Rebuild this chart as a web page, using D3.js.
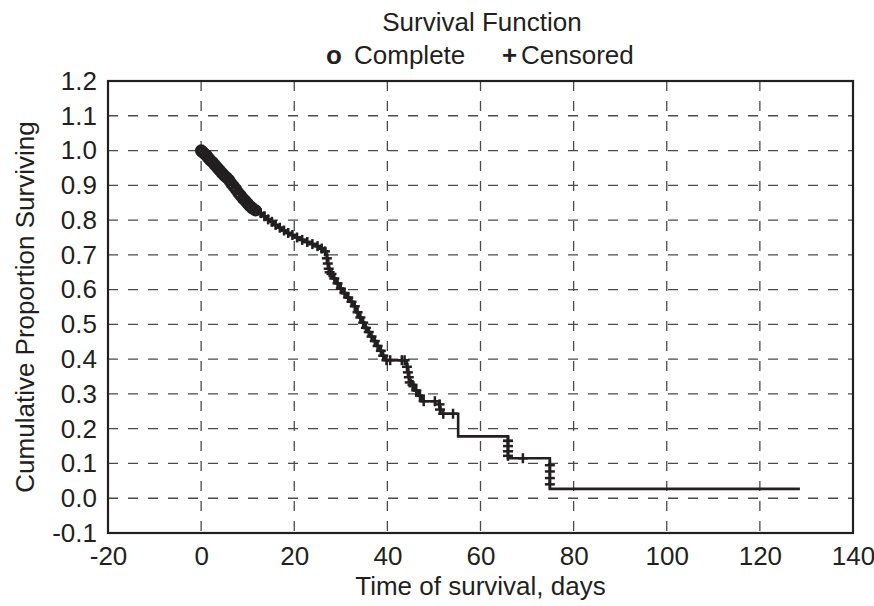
<!DOCTYPE html>
<html>
<head>
<meta charset="utf-8">
<script src="https://cdn.jsdelivr.net/npm/d3@7"></script>
<style>
  html, body { margin: 0; padding: 0; background: #fff; }
  svg { display: block; font-family: "Liberation Sans", Arial, sans-serif; }
</style>
</head>
<body>
<div id="chart"></div>
<script>
(function () {
  "use strict";

  // Kaplan-Meier steps: time (days) and cumulative proportion after the step
  var stepTimes = [0, 0.4, 0.8, 1.2, 1.6, 2.0, 2.5, 3.0, 3.5, 4.0, 4.5, 5.0, 5.5, 6.0, 6.5, 7.0, 7.5, 8.0, 8.5, 9.0,
    9.5, 10.0, 10.5, 11.0, 11.7, 12.4, 13.2, 14.0, 14.8, 15.6, 16.5, 17.4, 18.3, 19.2, 20.2, 21.2, 22.3, 23.4, 24.5,
    25.5, 26.3, 26.9, 27.1, 27.3, 27.5, 27.7, 28.3, 29.0, 29.7, 30.4, 31.2, 32.0, 32.7, 33.3, 33.9, 34.5, 35.1, 35.7,
    36.3, 37.0, 37.6, 38.3, 38.9, 39.4, 44.1, 44.3, 44.5, 44.7, 45.0, 45.8, 46.6, 47.4, 51.2, 51.4, 55.2, 65.9, 74.9, 128.6];
  var stepSurv = [1.0, 0.995, 0.99, 0.985, 0.978, 0.972, 0.966, 0.958, 0.95, 0.943, 0.935, 0.928, 0.922, 0.915, 0.905,
    0.897, 0.888, 0.878, 0.87, 0.862, 0.855, 0.847, 0.84, 0.834, 0.828, 0.82, 0.811, 0.802, 0.795, 0.786, 0.778, 0.77,
    0.763, 0.757, 0.75, 0.743, 0.737, 0.731, 0.725, 0.718, 0.71, 0.70, 0.685, 0.67, 0.655, 0.645, 0.632, 0.618, 0.603,
    0.59, 0.577, 0.565, 0.552, 0.535, 0.52, 0.505, 0.49, 0.478, 0.465, 0.452, 0.438, 0.424, 0.41, 0.397, 0.385, 0.37,
    0.355, 0.34, 0.326, 0.31, 0.295, 0.279, 0.262, 0.243, 0.178, 0.115, 0.027, 0.027];

  // complete observations (o)
  var completeT = [0, 0.2, 0.4, 0.8, 1.2, 1.6, 2.0, 2.5, 3.0, 3.5, 4.0, 4.5, 5.0, 5.5, 6.0, 6.5, 7.0, 7.5, 8.0, 8.5,
    9.0, 9.5, 10.0, 10.5, 11.0, 11.7];
  var completeS = [1.0, 0.997, 0.995, 0.99, 0.985, 0.978, 0.972, 0.966, 0.958, 0.95, 0.943, 0.935, 0.928, 0.922, 0.915,
    0.905, 0.897, 0.888, 0.878, 0.87, 0.862, 0.855, 0.847, 0.84, 0.834, 0.828];

  // censored observations (+)
  var censoredT = [8.2, 9.2, 10.2, 11.3, 12.0, 12.8, 13.6, 14.4, 15.2, 16.0, 16.9, 17.8, 18.7, 19.6, 20.6, 21.7, 22.8,
    23.9, 25.0, 25.9, 26.6, 27.0, 27.2, 27.4, 27.6, 28.0, 28.6, 29.3, 30.0, 30.8, 31.6, 32.3, 33.0, 33.6, 34.2, 34.8,
    35.4, 36.0, 36.6, 37.3, 37.9, 38.6, 39.1, 39.8, 40.6, 43.1, 43.7, 44.2, 44.4, 44.6, 44.8, 45.4, 46.2, 47.0, 47.8,
    50.2, 51.2, 51.3, 52.0, 54.1, 65.9, 65.9, 65.9, 65.9, 65.9, 69.1, 74.9, 74.9, 74.9, 74.9];
  var censoredS = [0.878, 0.862, 0.847, 0.834, 0.828, 0.82, 0.811, 0.802, 0.795, 0.786, 0.778, 0.77, 0.763, 0.757, 0.75,
    0.743, 0.737, 0.731, 0.725, 0.718, 0.71, 0.69, 0.675, 0.66, 0.65, 0.645, 0.632, 0.618, 0.603, 0.59, 0.577, 0.565,
    0.552, 0.535, 0.52, 0.505, 0.49, 0.478, 0.465, 0.452, 0.438, 0.424, 0.41, 0.397, 0.397, 0.397, 0.397, 0.378, 0.362,
    0.348, 0.333, 0.326, 0.31, 0.295, 0.279, 0.279, 0.27, 0.255, 0.243, 0.243, 0.165, 0.15, 0.135, 0.122, 0.165, 0.115,
    0.095, 0.077, 0.058, 0.04];

  var xTicks = [-20, 0, 20, 40, 60, 80, 100, 120, 140];
  var yTicks = [-0.1, 0.0, 0.1, 0.2, 0.3, 0.4, 0.5, 0.6, 0.7, 0.8, 0.9, 1.0, 1.1, 1.2];

  var W = 874, H = 606;
  var left = 108, right = 853, top = 81, bottom = 533;
  var ink = "#231f20";
  var fs = "26px";

  var x = d3.scaleLinear().domain([-20, 140]).range([left, right]);
  var y = d3.scaleLinear().domain([-0.1, 1.2]).range([bottom, top]);
  var loc = d3.formatLocale({ decimal: ".", thousands: ",", grouping: [3], currency: ["", ""], minus: "-" });

  var svg = d3.select("#chart").append("svg")
    .attr("width", W).attr("height", H)
    .attr("viewBox", [0, 0, W, H]);

  // grid
  var grid = svg.append("g")
    .attr("stroke", "#4a4a4a").attr("stroke-width", 1.3)
    .attr("stroke-dasharray", "10,10");
  grid.selectAll("line.v")
    .data(xTicks.filter(function (t) { return t > -20 && t < 140; }))
    .join("line").attr("class", "v")
    .attr("x1", function (d) { return x(d); }).attr("x2", function (d) { return x(d); })
    .attr("y1", top).attr("y2", bottom);
  grid.selectAll("line.h")
    .data(yTicks.filter(function (t) { return t > -0.1 && t < 1.2; }))
    .join("line").attr("class", "h")
    .attr("y1", function (d) { return y(d); }).attr("y2", function (d) { return y(d); })
    .attr("x1", left).attr("x2", right);

  // axes (labels only)
  var yAxis = svg.append("g")
    .attr("transform", "translate(" + left + ",0)")
    .call(d3.axisLeft(y).tickValues(yTicks).tickFormat(loc.format(".1f")).tickSize(0).tickPadding(11));
  var xAxis = svg.append("g")
    .attr("transform", "translate(0," + bottom + ")")
    .call(d3.axisBottom(x).tickValues(xTicks).tickFormat(loc.format("d")).tickSize(0).tickPadding(14));
  [xAxis, yAxis].forEach(function (a) {
    a.select(".domain").remove();
    a.selectAll("text")
      .attr("fill", ink)
      .style("font-family", "'Liberation Sans', Arial, sans-serif")
      .style("font-size", fs);
  });

  // frame
  svg.append("rect")
    .attr("x", left).attr("y", top)
    .attr("width", right - left).attr("height", bottom - top)
    .attr("fill", "none").attr("stroke", ink).attr("stroke-width", 2.2);

  // survival step curve
  var steps = stepTimes.map(function (t, i) { return [t, stepSurv[i]]; });
  svg.append("path")
    .datum(steps)
    .attr("fill", "none").attr("stroke", ink).attr("stroke-width", 2.6)
    .attr("d", d3.line()
      .x(function (d) { return x(d[0]); })
      .y(function (d) { return y(d[1]); })
      .curve(d3.curveStepAfter));

  // complete markers
  svg.append("g").selectAll("circle")
    .data(completeT.map(function (t, i) { return [t, completeS[i]]; }))
    .join("circle")
    .attr("cx", function (d) { return x(d[0]); })
    .attr("cy", function (d) { return y(d[1]); })
    .attr("r", 4.8)
    .attr("fill", "none").attr("stroke", ink).attr("stroke-width", 2.8);

  // censored markers
  var plus = svg.append("g").attr("stroke", ink).attr("stroke-width", 2.5);
  var cens = plus.selectAll("g")
    .data(censoredT.map(function (t, i) { return [t, censoredS[i]]; }))
    .join("g")
    .attr("transform", function (d) { return "translate(" + x(d[0]) + "," + y(d[1]) + ")"; });
  cens.append("line").attr("x1", -5).attr("x2", 5).attr("y1", 0).attr("y2", 0);
  cens.append("line").attr("x1", 0).attr("x2", 0).attr("y1", -5).attr("y2", 5);

  // titles
  svg.append("text")
    .attr("x", 482).attr("y", 31).attr("text-anchor", "middle")
    .attr("fill", ink).style("font-size", fs)
    .text("Survival Function");

  svg.append("text").attr("x", 326).attr("y", 64)
    .attr("fill", ink).style("font-size", fs).style("font-weight", "bold").text("o");
  svg.append("text").attr("x", 354).attr("y", 64)
    .attr("fill", ink).style("font-size", fs).text("Complete");
  svg.append("text").attr("x", 502).attr("y", 64)
    .attr("fill", ink).style("font-size", fs).style("font-weight", "bold").text("+");
  svg.append("text").attr("x", 521).attr("y", 64)
    .attr("fill", ink).style("font-size", fs).text("Censored");

  svg.append("text")
    .attr("x", (left + right) / 2).attr("y", 595).attr("text-anchor", "middle")
    .attr("fill", ink).style("font-size", fs)
    .text("Time of survival, days");

  svg.append("text")
    .attr("transform", "translate(34," + ((top + bottom) / 2) + ") rotate(-90)")
    .attr("text-anchor", "middle")
    .attr("fill", ink).style("font-size", fs)
    .text("Cumulative Proportion Surviving");
})();
</script>
</body>
</html>
